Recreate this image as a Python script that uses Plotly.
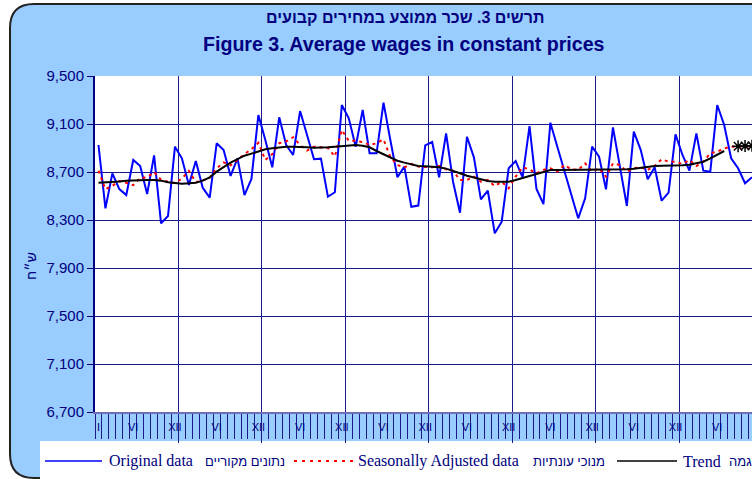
import plotly.graph_objects as go

# ---------------- data ----------------
original = [8925, 8397, 8689, 8558, 8508, 8800, 8750, 8517, 8839, 8272, 8333, 8911,
            8814, 8592, 8792, 8569, 8486, 8939, 8883, 8667, 8814, 8508, 8642, 9175,
            8967, 8739, 9156, 8925, 8842, 9208, 9008, 8806, 8811, 8494, 8531, 9258,
            9147, 8911, 9217, 8856, 8856, 9278, 8960, 8656, 8745, 8410, 8420, 8922,
            8950, 8656, 9022, 8619, 8361, 8994, 8822, 8472, 8544, 8189, 8286, 8731,
            8792, 8656, 9083, 8558, 8433, 9111, 8911, 8717, 8522, 8314, 8481, 8911,
            8828, 8556, 9072, 8744, 8417, 9036, 8883, 8639, 8739, 8461, 8528, 9014,
            8842, 8711, 9022, 8711, 8703, 9258, 9092, 8814, 8731, 8606, 8656]

seasonally_adjusted = [8711, 8556, 8585, 8625, 8610, 8590, 8650, 8656, 8700, 8635, 8619, 8608,
                       8645, 8710, 8615, 8630, 8652, 8730, 8780, 8755, 8800, 8850, 8890, 8944,
                       8800, 8850, 8940, 8955, 8990, 8925, 8878, 8911, 8906, 8900, 8830, 9050,
                       8960, 8960, 8950, 8925, 8939, 8972, 8822, 8758, 8739, 8767, 8745, 8739,
                       8739, 8750, 8722, 8711, 8633, 8633, 8661, 8619, 8633, 8583, 8619, 8564,
                       8661, 8739, 8722, 8689, 8717, 8731, 8703, 8758, 8722, 8717, 8772, 8703,
                       8731, 8661, 8772, 8758, 8703, 8731, 8739, 8717, 8750, 8806, 8786, 8786,
                       8767, 8800, 8750, 8786, 8856, 8870, 8897, 8911, 8911, 8911, 8911]

trend = [8611, 8612, 8614, 8620, 8628, 8631, 8633, 8634, 8633, 8628, 8614, 8606,
         8603, 8606, 8611, 8628, 8656, 8703, 8744, 8778, 8808, 8836, 8853, 8870,
         8889, 8897, 8906, 8911, 8911, 8911, 8906, 8903, 8903, 8906, 8911, 8917,
         8922, 8925, 8919, 8906, 8875, 8847, 8819, 8794, 8778, 8767, 8750, 8747,
         8744, 8739, 8728, 8711, 8689, 8669, 8653, 8639, 8625, 8619, 8617, 8619,
         8633, 8650, 8669, 8689, 8706, 8717, 8717, 8717, 8717, 8717, 8717, 8717,
         8717, 8717, 8717, 8717, 8722, 8728, 8736, 8744, 8750, 8753, 8753, 8753,
         8756, 8761, 8772, 8786, 8814, 8847, 8875]

trend_forecast_months = [92, 93, 94]
trend_forecast = [8915, 8917, 8919]

month_names = ["I", "II", "III", "IV", "V", "VI", "VII", "VIII", "IX", "X", "XI", "XII"]
labelled_month_numbers = [6, 12]          # VI and XII shown each year, plus the first I
n_years = 8
y_ticks = [6700, 7100, 7500, 7900, 8300, 8700, 9100, 9500]

title_he = "תרשים 3. שכר ממוצע במחירים קבועים"
title_en = "Figure 3. Average wages in constant prices"
y_title = "ש״ח"
legend_en = ["Original data", "Seasonally Adjusted data", "Trend"]
legend_he = ["נתונים מקוריים", "מנוכי עונתיות", "מגמה"]

# ---------------- helpers ----------------
NAVY = "#000080"
GRID = "#1a1a8a"
BG = "#99CCFF"
W, H = 752, 479
L, T, PW, PH = 95, 76, 657, 336


def px(x):
    return (x - L) / PW


def py(y):
    return (T + PH - y) / PH


months = list(range(len(original)))
months_sa = list(range(len(seasonally_adjusted)))
months_tr = list(range(len(trend)))

tick_vals, tick_text = [0], [month_names[0]]
for yr in range(n_years):
    for mn in labelled_month_numbers:
        tick_vals.append(yr * 12 + mn - 1)
        tick_text.append(month_names[mn - 1])
year_bounds = [yr * 12 + 11.5 for yr in range(n_years)]

fig = go.Figure()
fig.add_trace(go.Scatter(x=months, y=original, mode="lines",
                         line=dict(color="#0000FF", width=2), hoverinfo="skip"))
fig.add_trace(go.Scatter(x=months_sa, y=seasonally_adjusted, mode="lines",
                         line=dict(color="#FF0000", width=2, dash="3px,4px"), hoverinfo="skip"))
fig.add_trace(go.Scatter(x=months_tr, y=trend, mode="lines",
                         line=dict(color="#000000", width=2), hoverinfo="skip"))
fig.add_trace(go.Scatter(x=trend_forecast_months, y=trend_forecast, mode="markers",
                         cliponaxis=False,
                         marker=dict(symbol="asterisk-open", size=10, color="#000000",
                                     line=dict(width=1.5, color="#000000")), hoverinfo="skip"))
fig.add_trace(go.Scatter(x=[0], y=[None], xaxis="x2", mode="lines", hoverinfo="skip"))

# ---------------- shapes ----------------
def P(x, y):
    return f"{px(x)},{py(y)}"

bl, bt, br, bb, r = 10, 4, 800, 478, 24
border_path = (f"M {P(bl + r, bt)} L {P(br - r, bt)} Q {P(br, bt)} {P(br, bt + r)} "
               f"L {P(br, bb - r)} Q {P(br, bb)} {P(br - r, bb)} L {P(bl + r, bb)} "
               f"Q {P(bl, bb)} {P(bl, bb - r)} L {P(bl, bt + r)} Q {P(bl, bt)} {P(bl + r, bt)} Z")

shapes = [
    dict(type="path", xref="paper", yref="paper", path=border_path, fillcolor=BG,
         line=dict(color="#222222", width=2), layer="below"),
    dict(type="rect", xref="paper", yref="paper", x0=0, x1=1, y0=0, y1=1,
         fillcolor="white", line=dict(width=0), layer="below"),
    dict(type="rect", xref="paper", yref="paper", x0=px(40), x1=px(810), y0=py(495), y1=py(441),
         fillcolor="white", line=dict(width=0), layer="below"),
]
ly = 461
shapes += [
    dict(type="line", xref="paper", yref="paper", x0=px(45), x1=px(102), y0=py(ly), y1=py(ly),
         line=dict(color="#0000FF", width=1.5)),
    dict(type="line", xref="paper", yref="paper", x0=px(294), x1=px(354), y0=py(ly), y1=py(ly),
         line=dict(color="#FF0000", width=2, dash="3px,5px")),
    dict(type="line", xref="paper", yref="paper", x0=px(617), x1=px(677), y0=py(ly), y1=py(ly),
         line=dict(color="#000000", width=1.5)),
]

sans = "Arial, Liberation Sans"
serif = "Times New Roman, Liberation Serif"
annotations = [
    dict(text="<b>" + title_he + "</b>", x=px(405), y=py(18), xref="paper", yref="paper",
         xanchor="center", yanchor="middle",
         showarrow=False, font=dict(family=sans, size=16, color=NAVY)),
    dict(text="<b>" + title_en + "</b>", x=px(404), y=py(44), xref="paper", yref="paper",
         xanchor="center", yanchor="middle",
         showarrow=False, font=dict(family=sans, size=19.6, color=NAVY)),
    dict(text=y_title, x=px(31), y=py(266), xref="paper", yref="paper", textangle=-90,
         xanchor="center", yanchor="middle",
         showarrow=False, font=dict(family=sans, size=14, color=NAVY)),
]
for txt, xl, fam, sz in [(legend_en[0], 107, serif, 16), (legend_he[0], 203, sans, 13),
                         (legend_en[1], 356, serif, 16), (legend_he[1], 531, sans, 13),
                         (legend_en[2], 681, serif, 16), (legend_he[2], 727, sans, 13)]:
    annotations.append(dict(text=txt, x=px(xl), y=py(ly), xref="paper", yref="paper",
                            xanchor="left", yanchor="middle", showarrow=False,
                            font=dict(family=fam, size=sz, color=NAVY)))

fig.update_layout(
    width=W, height=H, showlegend=False,
    margin=dict(l=L, r=W - L - PW, t=T, b=H - T - PH, pad=0),
    paper_bgcolor="white", plot_bgcolor="white",
    shapes=shapes, annotations=annotations,
    xaxis=dict(range=[-0.5, 94.0], tickmode="array", tickvals=year_bounds, showticklabels=False,
               ticks="outside", ticklen=29, tickcolor=GRID, tickwidth=1,
               showgrid=True, gridcolor=GRID, gridwidth=1, zeroline=False,
               showline=True, linecolor="#6f6fb8", linewidth=2,
               minor=dict(tickmode="linear", tick0=-0.5, dtick=1, ticks="outside", ticklen=25,
                          tickcolor=GRID, tickwidth=1, showgrid=False)),
    xaxis2=dict(overlaying="x", matches="x", anchor="y", side="bottom", tickmode="array",
                tickvals=tick_vals, ticktext=tick_text, ticks="", showgrid=False, showline=False,
                zeroline=False, ticklabelstandoff=7,
                tickfont=dict(family=sans, size=11, color=NAVY)),
    yaxis=dict(range=[6700, 9500], tickmode="array", tickvals=y_ticks, tickformat=",",
               ticks="outside", ticklen=6, tickcolor=NAVY, showgrid=True, gridcolor=GRID,
               gridwidth=1, zeroline=False, showline=True, linecolor=NAVY, linewidth=2,
               tickfont=dict(family=sans, size=15, color=NAVY)),
)

fig.write_html("out.html", config={"displayModeBar": False},
               post_script="document.body.style.margin='0';document.body.style.overflow='hidden';")
